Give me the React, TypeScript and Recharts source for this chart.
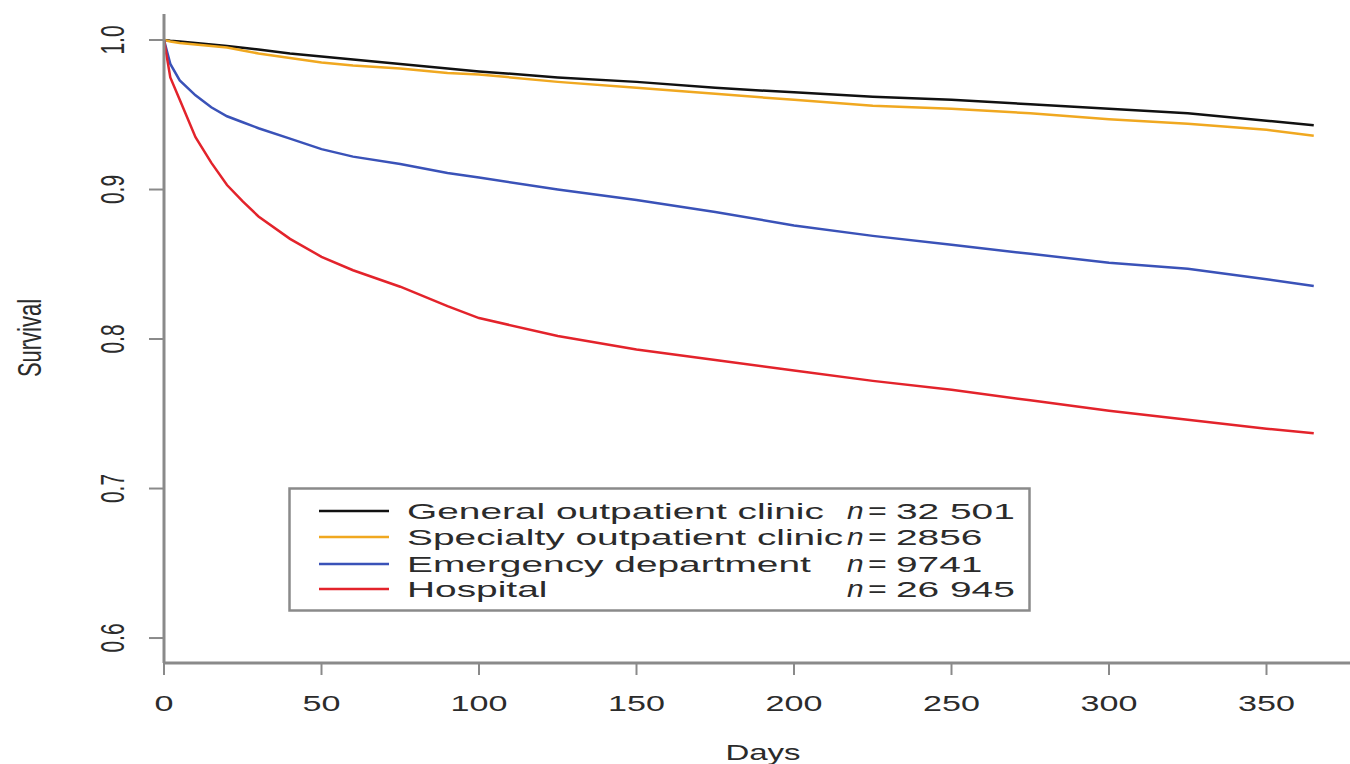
import React from 'react';
import { LineChart, Line, XAxis, YAxis, Legend } from 'recharts';

// days since index contact
const days = [0, 2, 5, 10, 15, 20, 25, 30, 40, 50, 60, 75, 90, 100, 125, 150, 175, 200, 225, 250, 275, 300, 325, 350, 365];

// survival estimates
const general = [1.0, 0.9995, 0.999, 0.998, 0.997, 0.996, 0.9948, 0.9936, 0.991, 0.989, 0.987, 0.984, 0.981, 0.979, 0.975, 0.972, 0.968, 0.965, 0.962, 0.96, 0.957, 0.954, 0.951, 0.946, 0.943];
const specialty = [1.0, 0.999, 0.998, 0.997, 0.996, 0.995, 0.993, 0.991, 0.988, 0.985, 0.983, 0.981, 0.978, 0.977, 0.972, 0.968, 0.964, 0.96, 0.956, 0.954, 0.951, 0.947, 0.944, 0.94, 0.936];
const emergency = [1.0, 0.984, 0.973, 0.963, 0.955, 0.949, 0.945, 0.941, 0.934, 0.927, 0.922, 0.917, 0.911, 0.908, 0.9, 0.893, 0.885, 0.876, 0.869, 0.863, 0.857, 0.851, 0.847, 0.84, 0.8355];
const hospital = [1.0, 0.975, 0.96, 0.935, 0.918, 0.903, 0.892, 0.882, 0.867, 0.855, 0.846, 0.835, 0.822, 0.814, 0.802, 0.793, 0.786, 0.779, 0.772, 0.766, 0.759, 0.752, 0.746, 0.74, 0.737];

const xTicks = [0, 50, 100, 150, 200, 250, 300, 350];
const yTicks = [0.6, 0.7, 0.8, 0.9, 1.0];

const groups = ['General outpatient clinic', 'Specialty outpatient clinic', 'Emergency department', 'Hospital'];
const counts = ['32 501', '2856', '9741', '26 945'];
const colors = ['#111111', '#f0a820', '#3a52b8', '#e3232b'];
const keys = ['general', 'specialty', 'emergency', 'hospital'];

const data = days.map((d, i) => ({
  day: d,
  general: general[i],
  specialty: specialty[i],
  emergency: emergency[i],
  hospital: hospital[i],
}));

const FONT = '"Liberation Sans", Arial, sans-serif';
const INK = '#2b2b2b';
const FRAME = '#8a8a8a';

const XTick = (props: any) => {
  const { x, y, payload } = props;
  return (
    <text transform={`translate(${x},${y + 36}) scale(1.55,1)`} textAnchor="middle" fontSize={22} fill={INK} fontFamily={FONT}>
      {payload.value}
    </text>
  );
};

const YTick = (props: any) => {
  const { x, y, payload } = props;
  return (
    <text transform={`translate(${x - 25},${y}) scale(1.55,1) rotate(-90)`} textAnchor="middle" fontSize={21} fill={INK} fontFamily={FONT}>
      {Number(payload.value).toFixed(1)}
    </text>
  );
};

const LegendBox = () => (
  <svg width={744} height={126} style={{ display: 'block' }}>
    <rect x={1.5} y={1.5} width={740} height={122} fill="#fff" stroke={FRAME} strokeWidth={2.5} />
    {groups.map((g, i) => {
      const cy = [24, 50, 77, 102][i];
      return (
        <g key={g}>
          <line x1={31} x2={101} y1={cy} y2={cy} stroke={colors[i]} strokeWidth={2.5} />
          <text transform={`translate(119,${cy + 8}) scale(1.69,1)`} fontSize={23} fill={INK} fontFamily={FONT}>{g}</text>
          <text transform={`translate(559,${cy + 8}) scale(1.3,1)`} fontSize={23} fontStyle="italic" fill={INK} fontFamily={FONT}>n</text>
          <text transform={`translate(580,${cy + 8}) scale(1.4,1)`} fontSize={23} fill={INK} fontFamily={FONT}>=</text>
          <text transform={`translate(608,${cy + 8}) scale(1.69,1)`} fontSize={23} fill={INK} fontFamily={FONT}>{counts[i]}</text>
        </g>
      );
    })}
  </svg>
);

export default function App() {
  return (
    <div style={{ position: 'fixed', left: 0, top: 0, width: 1350, height: 764, overflow: 'hidden', background: '#fff' }}>
      <LineChart width={1400} height={764} data={data} margin={{ top: 14, right: 39, bottom: 0, left: 0 }}>
        <XAxis
          dataKey="day"
          type="number"
          domain={[0, 380]}
          ticks={xTicks}
          height={101}
          tickSize={12}
          tickMargin={0}
          tick={<XTick />}
          axisLine={{ stroke: FRAME, strokeWidth: 3 }}
          tickLine={{ stroke: FRAME, strokeWidth: 2 }}
          allowDataOverflow
          label={() => (
            <text transform={`translate(763,760) scale(1.5,1)`} textAnchor="middle" fontSize={22} fill={INK} fontFamily={FONT}>
              Days
            </text>
          )}
        />
        <XAxis xAxisId="top" dataKey="day" type="number" domain={[0, 380]} orientation="top" height={0} tick={false} tickLine={false} axisLine={{ stroke: FRAME, strokeWidth: 3 }} />
        <YAxis
          type="number"
          domain={[0.5833, 1.0174]}
          ticks={yTicks}
          width={164}
          tickSize={15}
          tickMargin={0}
          tick={<YTick />}
          axisLine={{ stroke: FRAME, strokeWidth: 3 }}
          tickLine={{ stroke: FRAME, strokeWidth: 2 }}
          allowDataOverflow
          label={() => (
            <text transform={`translate(41,338) scale(1.5,1) rotate(-90)`} textAnchor="middle" fontSize={22} fill={INK} fontFamily={FONT}>
              Survival
            </text>
          )}
        />
        <Legend
          layout="horizontal"
          verticalAlign="middle"
          content={() => <LegendBox />}
          wrapperStyle={{ left: 288, top: 487, width: 744, height: 126 }}
        />
        {keys.map((k, i) => (
          <Line key={k} dataKey={k} type="linear" stroke={colors[i]} strokeWidth={2.5} dot={false} isAnimationActive={false} />
        ))}
      </LineChart>
    </div>
  );
}
